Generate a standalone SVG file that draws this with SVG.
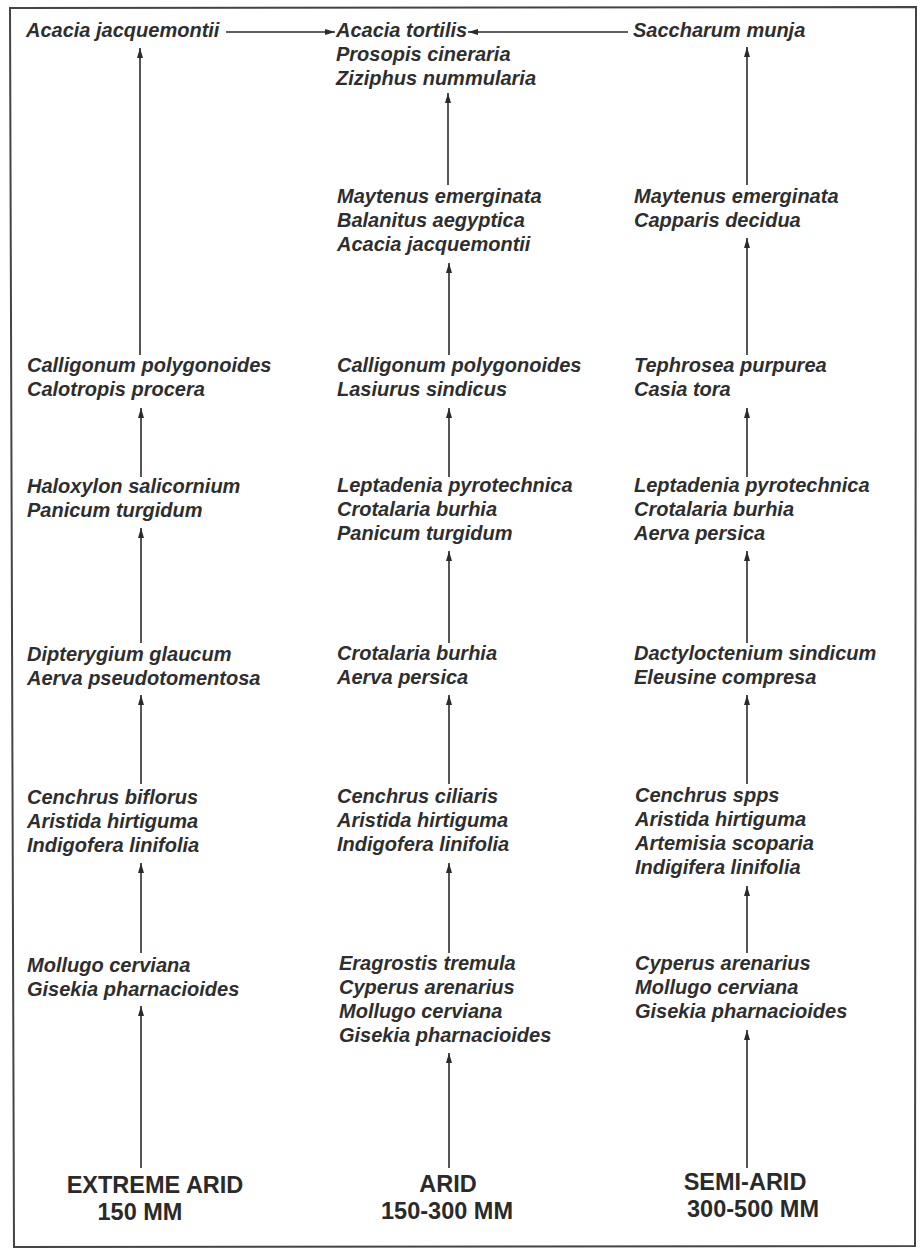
<svg xmlns="http://www.w3.org/2000/svg" width="923" height="1252" viewBox="0 0 923 1252">
<defs>
<marker id="ah" viewBox="0 0 10 6" refX="10" refY="3" markerWidth="10" markerHeight="6" markerUnits="userSpaceOnUse" orient="auto">
<path d="M0,0 L10,3 L0,6 Z" fill="#2b2b2b"/>
</marker>
<style>
.sp{font-family:"Liberation Sans",Arial,sans-serif;font-size:20px;font-weight:bold;font-style:italic;fill:#2e2e2e}
.lb{font-family:"Liberation Sans",Arial,sans-serif;font-size:23.5px;font-weight:bold;fill:#2a2a2a;text-anchor:middle}
.cn{stroke:#2b2b2b;stroke-width:1.6;fill:none;marker-end:url(#ah)}
.fr{stroke:#444;stroke-width:2;fill:none}
</style>
</defs>
<rect width="923" height="1252" fill="#ffffff"/>
<path class="fr" d="M10,8 L916,7 L915,1246 L14,1247 Z"/>

<g id="connectors">
<!-- column 1 -->
<line class="cn" x1="141" y1="1168" x2="141" y2="1006"/>
<line class="cn" x1="141" y1="953" x2="141" y2="863"/>
<line class="cn" x1="141" y1="784" x2="141" y2="695"/>
<line class="cn" x1="141" y1="643" x2="141" y2="528"/>
<line class="cn" x1="141" y1="477" x2="141" y2="408"/>
<line class="cn" x1="140" y1="355" x2="140" y2="48"/>
<!-- column 2 -->
<line class="cn" x1="449" y1="1168" x2="449" y2="1053"/>
<line class="cn" x1="449" y1="953" x2="449" y2="863"/>
<line class="cn" x1="449" y1="784" x2="449" y2="695"/>
<line class="cn" x1="449" y1="643" x2="449" y2="551"/>
<line class="cn" x1="449" y1="477" x2="449" y2="408"/>
<line class="cn" x1="449" y1="355" x2="449" y2="263"/>
<line class="cn" x1="448" y1="185" x2="448" y2="93"/>
<!-- column 3 -->
<line class="cn" x1="747" y1="1168" x2="747" y2="1030"/>
<line class="cn" x1="747" y1="953" x2="747" y2="886"/>
<line class="cn" x1="747" y1="784" x2="747" y2="695"/>
<line class="cn" x1="747" y1="643" x2="747" y2="551"/>
<line class="cn" x1="747" y1="477" x2="747" y2="408"/>
<line class="cn" x1="747" y1="355" x2="747" y2="238"/>
<line class="cn" x1="747" y1="185" x2="747" y2="47"/>
<!-- top horizontals -->
<line class="cn" x1="226" y1="32" x2="335" y2="32"/>
<line class="cn" x1="628" y1="32" x2="468" y2="32"/>
</g>

<!-- Column 1 -->
<g id="c1-top"><text class="sp" x="26" y="37">Acacia jacquemontii</text></g>
<g id="c1-r3"><text class="sp" x="27" y="372">Calligonum polygonoides</text><text class="sp" x="27" y="396">Calotropis procera</text></g>
<g id="c1-r4"><text class="sp" x="27" y="493">Haloxylon salicornium</text><text class="sp" x="27" y="517">Panicum turgidum</text></g>
<g id="c1-r5"><text class="sp" x="27" y="661">Dipterygium glaucum</text><text class="sp" x="27" y="685">Aerva pseudotomentosa</text></g>
<g id="c1-r6"><text class="sp" x="27" y="804">Cenchrus biflorus</text><text class="sp" x="27" y="828">Aristida hirtiguma</text><text class="sp" x="27" y="852">Indigofera linifolia</text></g>
<g id="c1-r7"><text class="sp" x="27" y="972">Mollugo cerviana</text><text class="sp" x="27" y="996">Gisekia pharnacioides</text></g>
<g id="c1-base"><text class="lb" x="155" y="1193">EXTREME ARID</text><text class="lb" x="140" y="1220">150 MM</text></g>

<!-- Column 2 -->
<g id="c2-top"><text class="sp" x="336" y="37">Acacia tortilis</text><text class="sp" x="336" y="61">Prosopis cineraria</text><text class="sp" x="336" y="85">Ziziphus nummularia</text></g>
<g id="c2-r2"><text class="sp" x="337" y="203">Maytenus emerginata</text><text class="sp" x="337" y="227">Balanitus aegyptica</text><text class="sp" x="337" y="251">Acacia jacquemontii</text></g>
<g id="c2-r3"><text class="sp" x="337" y="372">Calligonum polygonoides</text><text class="sp" x="337" y="396">Lasiurus sindicus</text></g>
<g id="c2-r4"><text class="sp" x="337" y="492">Leptadenia pyrotechnica</text><text class="sp" x="337" y="516">Crotalaria burhia</text><text class="sp" x="337" y="540">Panicum turgidum</text></g>
<g id="c2-r5"><text class="sp" x="337" y="660">Crotalaria burhia</text><text class="sp" x="337" y="684">Aerva persica</text></g>
<g id="c2-r6"><text class="sp" x="337" y="803">Cenchrus ciliaris</text><text class="sp" x="337" y="827">Aristida hirtiguma</text><text class="sp" x="337" y="851">Indigofera linifolia</text></g>
<g id="c2-r7"><text class="sp" x="339" y="970">Eragrostis tremula</text><text class="sp" x="339" y="994">Cyperus arenarius</text><text class="sp" x="339" y="1018">Mollugo cerviana</text><text class="sp" x="339" y="1042">Gisekia pharnacioides</text></g>
<g id="c2-base"><text class="lb" x="448" y="1192">ARID</text><text class="lb" x="447" y="1219">150-300 MM</text></g>

<!-- Column 3 -->
<g id="c3-top"><text class="sp" x="633" y="37">Saccharum munja</text></g>
<g id="c3-r2"><text class="sp" x="634" y="203">Maytenus emerginata</text><text class="sp" x="634" y="227">Capparis decidua</text></g>
<g id="c3-r3"><text class="sp" x="634" y="372">Tephrosea purpurea</text><text class="sp" x="634" y="396">Casia tora</text></g>
<g id="c3-r4"><text class="sp" x="634" y="492">Leptadenia pyrotechnica</text><text class="sp" x="634" y="516">Crotalaria burhia</text><text class="sp" x="634" y="540">Aerva persica</text></g>
<g id="c3-r5"><text class="sp" x="634" y="660">Dactyloctenium sindicum</text><text class="sp" x="634" y="684">Eleusine compresa</text></g>
<g id="c3-r6"><text class="sp" x="635" y="802">Cenchrus spps</text><text class="sp" x="635" y="826">Aristida hirtiguma</text><text class="sp" x="635" y="850">Artemisia scoparia</text><text class="sp" x="635" y="874">Indigifera linifolia</text></g>
<g id="c3-r7"><text class="sp" x="635" y="970">Cyperus arenarius</text><text class="sp" x="635" y="994">Mollugo cerviana</text><text class="sp" x="635" y="1018">Gisekia pharnacioides</text></g>
<g id="c3-base"><text class="lb" x="745" y="1190">SEMI-ARID</text><text class="lb" x="753" y="1217">300-500 MM</text></g>
</svg>
